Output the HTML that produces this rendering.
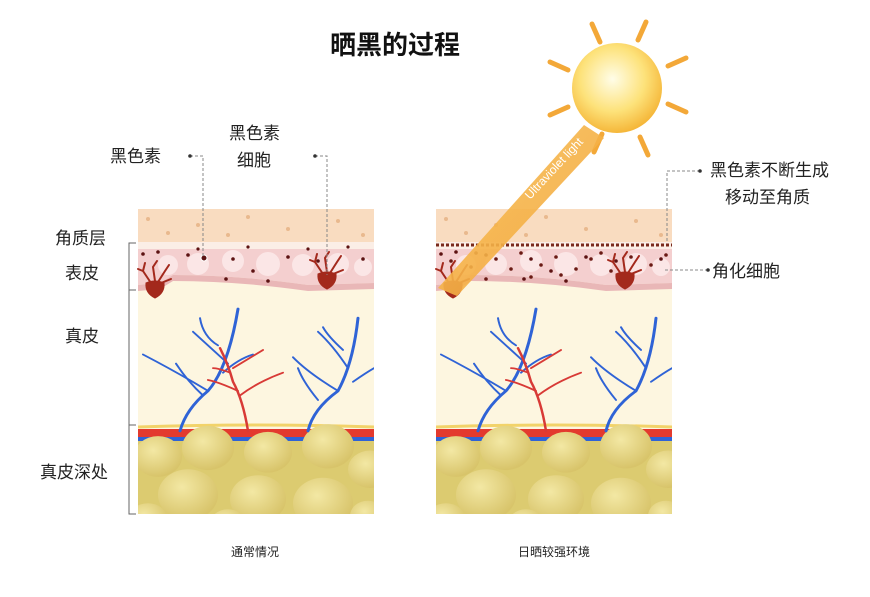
<!DOCTYPE html>
<html><head><meta charset="utf-8"><style>
body{margin:0;background:#fff;}
svg text{font-family:"Liberation Sans","Noto Sans CJK SC",sans-serif;fill:#222;}
</style></head><body>
<svg width="870" height="592" viewBox="0 0 870 592" xmlns="http://www.w3.org/2000/svg">
<defs>
<radialGradient id="sun" cx="45%" cy="40%" r="60%">
<stop offset="0" stop-color="#fffde8"/><stop offset="0.6" stop-color="#fde27a"/><stop offset="1" stop-color="#f5b73a"/>
</radialGradient>
<linearGradient id="beam" x1="0" y1="0" x2="1" y2="1">
<stop offset="0" stop-color="#f7c560" stop-opacity="0.95"/><stop offset="1" stop-color="#f3a030" stop-opacity="0.85"/>
</linearGradient>
<radialGradient id="fat" cx="40%" cy="35%" r="65%">
<stop offset="0" stop-color="#f3e8a4"/><stop offset="1" stop-color="#d8c46a"/>
</radialGradient>
<clipPath id="pc"><rect x="0" y="0" width="236" height="305"/></clipPath>
<g id="panel" clip-path="url(#pc)">
<rect x="0" y="0" width="236" height="305" fill="#fdf6e0"/>
<rect x="0" y="0" width="236" height="34" fill="#f9dcc0"/>
<rect x="0" y="33" width="236" height="8" fill="#fbeee6"/>
<path d="M0 40 H236 V74 L170 76 Q100 66 35 66 L22 74 L0 76 Z" fill="#f4cfcf"/>
<path d="M0 76 L22 74 L35 66 Q100 66 170 76 L236 74 V80 L170 82 Q100 72 35 72 L22 80 L0 82 Z" fill="#e9b7b7"/>
<g fill="#fbe6e6"><circle cx="30" cy="56" r="10"/><circle cx="60" cy="55" r="11"/><circle cx="95" cy="52" r="11"/><circle cx="130" cy="55" r="12"/><circle cx="165" cy="56" r="11"/><circle cx="200" cy="55" r="11"/><circle cx="225" cy="58" r="9"/></g>
<g fill="#e9b98e"><circle cx="10" cy="10" r="2"/><circle cx="60" cy="16" r="2"/><circle cx="110" cy="8" r="2"/><circle cx="150" cy="20" r="2"/><circle cx="200" cy="12" r="2"/><circle cx="30" cy="24" r="2"/><circle cx="90" cy="26" r="2"/><circle cx="225" cy="26" r="2"/></g>
<path d="M0 218 Q120 214 236 218" stroke="#f2d36a" stroke-width="3" fill="none"/>
<rect x="0" y="220" width="236" height="8" fill="#e33a2e"/>
<rect x="0" y="228" width="236" height="4" fill="#2f63d6"/>
<rect x="0" y="232" width="236" height="73" fill="#dccb70"/>
<g fill="url(#fat)" transform="translate(0,52) scale(1,0.85)"><circle cx="20" cy="230" r="24"/><circle cx="70" cy="220" r="26"/><circle cx="130" cy="225" r="24"/><circle cx="190" cy="218" r="26"/><circle cx="232" cy="245" r="22"/><circle cx="50" cy="275" r="30"/><circle cx="120" cy="280" r="28"/><circle cx="185" cy="285" r="30"/><circle cx="10" cy="305" r="20"/><circle cx="90" cy="310" r="18"/><circle cx="230" cy="300" r="18"/></g>
<g fill="none" stroke-linecap="round" transform="translate(0,72.7) scale(1,0.91)">
<g stroke="#2f63d6" stroke-width="2">
<path d="M42 164 Q48 140 70 120 Q90 95 100 30" stroke-width="3"/>
<path d="M70 120 Q40 100 5 80"/><path d="M65 125 Q50 110 38 90"/><path d="M90 90 Q70 70 55 55"/><path d="M85 100 Q100 85 115 80"/><path d="M80 70 Q65 60 62 40"/>
<path d="M170 164 Q175 140 200 120 Q215 90 220 40" stroke-width="3"/>
<path d="M200 120 Q170 100 155 83"/><path d="M180 130 Q165 110 160 95"/><path d="M210 95 Q195 70 180 55"/><path d="M215 110 Q228 100 236 95"/><path d="M205 75 Q190 60 185 50"/>
</g>
<g stroke="#d83a36" stroke-width="2">
<path d="M110 164 Q105 130 95 110 Q90 90 82 73" stroke-width="2.5"/>
<path d="M100 120 Q80 110 70 108"/><path d="M102 125 Q120 110 145 100"/><path d="M95 95 Q110 85 125 75"/><path d="M92 100 Q80 95 75 95"/>
</g>
</g>
<g fill="#5c1212"><circle cx="5" cy="45" r="1.8"/><circle cx="20" cy="43" r="1.8"/><circle cx="50" cy="46" r="1.8"/><circle cx="95" cy="50" r="1.8"/><circle cx="115" cy="62" r="1.8"/><circle cx="150" cy="48" r="1.8"/><circle cx="180" cy="52" r="1.8"/><circle cx="225" cy="50" r="1.8"/><circle cx="88" cy="70" r="1.8"/><circle cx="130" cy="72" r="1.8"/></g>
</g>
<g id="cell" fill="#a3291c" stroke="#a3291c" stroke-linecap="round">
<path d="M-9 -4 Q0 -8 9 -4 Q10 6 0 11 Q-10 6 -9 -4Z"/>
<g stroke-width="2" fill="none"><path d="M-4 -4 L-12 -16 L-10 -24"/><path d="M-12 -16 L-17 -18"/><path d="M0 -6 L-2 -20 L2 -26"/><path d="M3 -5 L10 -16 L14 -22"/><path d="M6 -4 L16 -8"/></g>
</g>
</defs>
<text x="395" y="54" font-size="26" font-weight="bold" text-anchor="middle" style="fill:#111">晒黑的过程</text>

<g transform="translate(138,209)"><use href="#panel"/>
<g fill="#5c1212"><circle cx="60" cy="40" r="1.6"/><circle cx="110" cy="38" r="1.6"/><circle cx="170" cy="40" r="1.6"/><circle cx="210" cy="38" r="1.6"/></g>
<circle cx="66" cy="49" r="3" fill="#5c1212" stroke="#fff" stroke-width="1"/>
</g>
<use href="#cell" x="155" y="287"/>
<use href="#cell" x="327" y="278"/>

<g transform="translate(436,209)"><use href="#panel"/>
<g fill="#6a1a14">
<path d="M0 36 H236" stroke="#7a2a1c" stroke-width="3" stroke-dasharray="3 2"/>
<circle cx="15" cy="52" r="1.8"/><circle cx="35" cy="58" r="1.8"/><circle cx="60" cy="50" r="1.8"/><circle cx="75" cy="60" r="1.8"/><circle cx="105" cy="56" r="1.8"/><circle cx="120" cy="48" r="1.8"/><circle cx="140" cy="60" r="1.8"/><circle cx="155" cy="50" r="1.8"/><circle cx="175" cy="62" r="1.8"/><circle cx="195" cy="48" r="1.8"/><circle cx="215" cy="56" r="1.8"/><circle cx="50" cy="70" r="1.8"/><circle cx="95" cy="68" r="1.8"/><circle cx="125" cy="66" r="1.8"/><circle cx="165" cy="44" r="1.8"/><circle cx="230" cy="46" r="1.8"/><circle cx="85" cy="44" r="1.8"/><circle cx="40" cy="44" r="1.8"/>
</g></g>
<use href="#cell" x="453" y="287"/>
<use href="#cell" x="625" y="278"/>

<!-- sun -->
<g stroke="#f3a838" stroke-width="5" stroke-linecap="round">
<line x1="592" y1="24" x2="600" y2="42"/><line x1="646" y1="22" x2="638" y2="40"/>
<line x1="550" y1="62" x2="568" y2="70"/><line x1="686" y1="58" x2="668" y2="66"/>
<line x1="550" y1="115" x2="568" y2="107"/><line x1="686" y1="112" x2="668" y2="104"/>
<line x1="594" y1="152" x2="602" y2="134"/><line x1="648" y1="155" x2="640" y2="137"/>
</g>
<circle cx="617" cy="88" r="45" fill="url(#sun)"/>
<polygon points="584,125 604,138 457,296 438,288" fill="url(#beam)"/>
<text transform="translate(530,200) rotate(-47)" font-size="12" style="fill:#fff">Ultraviolet light</text>

<g font-size="17">
<text x="55" y="244">角质层</text><text x="65" y="279">表皮</text><text x="65" y="342">真皮</text><text x="40" y="478">真皮深处</text>
<text x="110" y="162">黑色素</text><text x="229" y="139">黑色素</text><text x="237" y="166">细胞</text>
<text x="710" y="176">黑色素不断生成</text><text x="725" y="203">移动至角质</text><text x="712" y="277">角化细胞</text>
</g>
<g font-size="12"><text x="255" y="556" text-anchor="middle">通常情况</text><text x="554" y="556" text-anchor="middle">日晒较强环境</text></g>
<g stroke="#666" fill="none" stroke-width="1">
<path d="M136 243 H129 V290 H136 M129 290 V425 H136 M129 425 V514 H136"/>
</g>
<g stroke="#888" fill="none" stroke-width="1" stroke-dasharray="3 2">
<path d="M190 156 H203 V258"/><path d="M315 156 H327 V275"/>
<path d="M700 171 H667 V243"/><path d="M708 270 H665"/>
</g>
<g fill="#333"><circle cx="190" cy="156" r="1.8"/><circle cx="315" cy="156" r="1.8"/><circle cx="700" cy="171" r="1.8"/><circle cx="708" cy="270" r="1.8"/></g>
</svg>
</body></html>
